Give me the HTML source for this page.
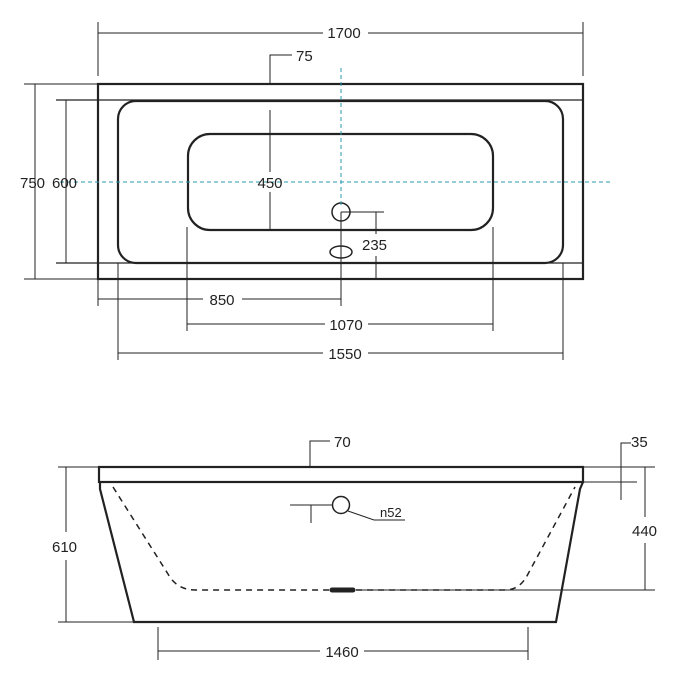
<!DOCTYPE html><html><head><style>body{margin:0;background:#fff}svg{display:block}text{font-family:"Liberation Sans",sans-serif;font-size:15px;fill:#222}</style></head><body>
<svg width="677" height="683" viewBox="0 0 677 683">
<g stroke="#222" fill="none" stroke-width="1">
<!-- top view dims -->
<line x1="98" y1="22" x2="98" y2="76"/><line x1="583" y1="22" x2="583" y2="76"/>
<line x1="98" y1="33" x2="323" y2="33"/><line x1="368" y1="33" x2="583" y2="33"/>
<polyline points="270,84 270,55 292,55"/>
<line x1="24" y1="84" x2="98" y2="84"/><line x1="24" y1="279" x2="98" y2="279"/>
<line x1="35" y1="84" x2="35" y2="279"/>
<line x1="56" y1="100" x2="583" y2="100" stroke-width="1.3"/><line x1="56" y1="263" x2="583" y2="263" stroke-width="1.3"/>
<line x1="66" y1="100" x2="66" y2="263"/>
<line x1="270" y1="110" x2="270" y2="172"/><line x1="270" y1="192" x2="270" y2="230"/>
<line x1="341" y1="212" x2="384" y2="212"/><line x1="376" y1="212" x2="376" y2="234"/><line x1="376" y1="256" x2="376" y2="279"/>
<line x1="341" y1="212" x2="341" y2="306"/>
<line x1="98" y1="279" x2="98" y2="306"/>
<line x1="98" y1="299" x2="203" y2="299"/><line x1="242" y1="299" x2="341" y2="299"/>
<line x1="187" y1="227" x2="187" y2="331"/><line x1="493" y1="227" x2="493" y2="331"/>
<line x1="187" y1="324" x2="325" y2="324"/><line x1="368" y1="324" x2="493" y2="324"/>
<line x1="118" y1="263" x2="118" y2="360"/><line x1="563" y1="263" x2="563" y2="360"/>
<line x1="118" y1="353" x2="323" y2="353"/><line x1="368" y1="353" x2="563" y2="353"/>
<rect x="98" y="84" width="485" height="195" stroke-width="2.2"/>
<rect x="118" y="101" width="445" height="162" rx="18" stroke-width="2.2"/>
<rect x="188" y="134" width="305" height="96" rx="22" stroke-width="2.2"/>
<circle cx="341" cy="212" r="9" stroke-width="1.5"/>
<ellipse cx="341" cy="252" rx="11" ry="6" stroke-width="1.5"/>
</g>
<g stroke="#2a9bb0" stroke-dasharray="4,3" stroke-width="1">
<line x1="341" y1="68" x2="341" y2="205"/><line x1="60" y1="182" x2="612" y2="182"/>
</g>
<text x="344" y="38" text-anchor="middle">1700</text>
<text x="296" y="61">75</text>
<text x="20" y="188">750</text><text x="52" y="188">600</text>
<text x="270" y="188" text-anchor="middle" fill="#222">450</text>
<text x="362" y="250">235</text>
<text x="222" y="305" text-anchor="middle">850</text>
<text x="346" y="330" text-anchor="middle">1070</text>
<text x="345" y="359" text-anchor="middle">1550</text>
<!-- side view -->
<g stroke="#222" fill="none" stroke-width="1">
<line x1="58" y1="467" x2="98" y2="467"/><line x1="58" y1="622" x2="133" y2="622"/>
<line x1="66" y1="467" x2="66" y2="532"/><line x1="66" y1="560" x2="66" y2="622"/>
<polyline points="310,467 310,441 330,441"/>
<polyline points="621,500 621,443 631,443"/>
<line x1="583" y1="467" x2="655" y2="467"/>
<line x1="583" y1="482" x2="637" y2="482"/>
<line x1="645" y1="467" x2="645" y2="517"/><line x1="645" y1="543" x2="645" y2="590"/>
<line x1="356" y1="590" x2="655" y2="590"/>
<line x1="158" y1="627" x2="158" y2="660"/><line x1="528" y1="627" x2="528" y2="660"/>
<line x1="158" y1="651" x2="320" y2="651"/><line x1="364" y1="651" x2="528" y2="651"/>
<line x1="290" y1="505" x2="332" y2="505"/><line x1="311" y1="505" x2="311" y2="523"/>
<polyline points="348,511 374,520 405,520"/>
<circle cx="341" cy="505" r="8.5" stroke-width="1.5"/>
<rect x="99" y="467" width="484" height="15" stroke-width="2.2"/>
<polyline points="100,482 100,489 134,622 556,622 580,489 583,482" stroke-width="2.2"/>
<path d="M113,487 L168,574 Q177,590 195,590 L505,590 Q520,590 528,574 L575,487" stroke-dasharray="6,5" stroke-width="1.5"/>
<line x1="332" y1="590" x2="353" y2="590" stroke-width="5" stroke-linecap="round"/>
</g>
<text x="334" y="447">70</text>
<text x="631" y="447">35</text>
<text x="52" y="552">610</text>
<text x="632" y="536">440</text>
<text x="380" y="517" style="font-size:13px">n52</text>
<text x="342" y="657" text-anchor="middle">1460</text>
</svg></body></html>
